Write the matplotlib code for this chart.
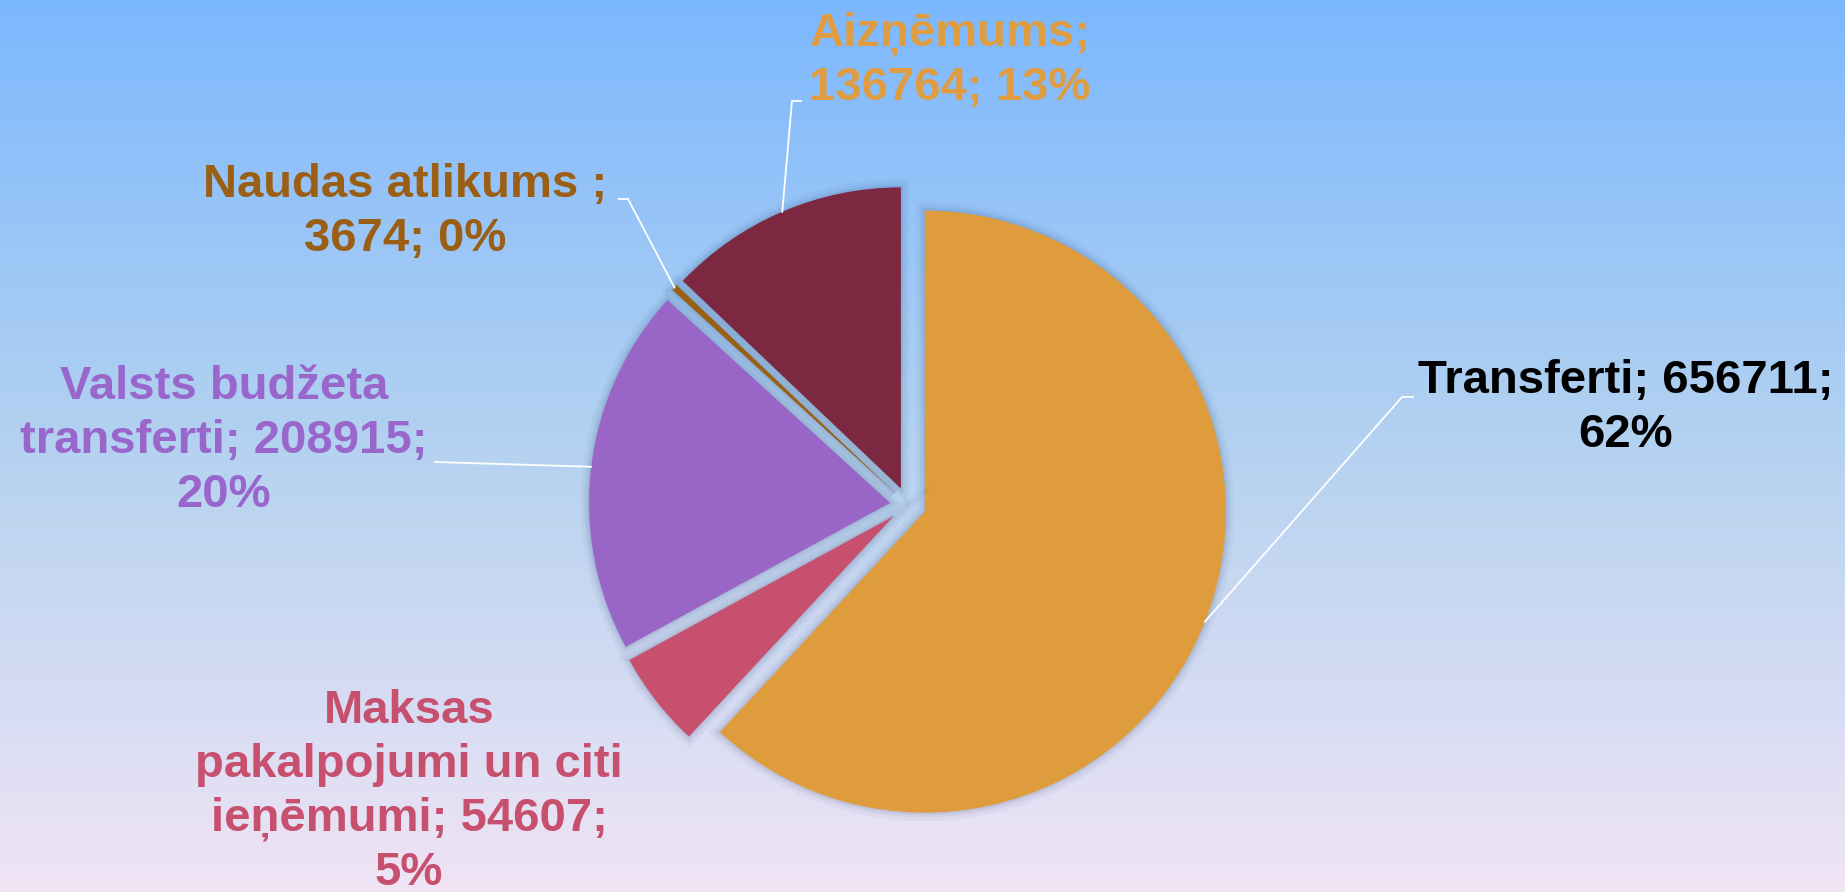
import numpy as np
import matplotlib
matplotlib.use("Agg")
import matplotlib.pyplot as plt
import matplotlib.patheffects as pe
from matplotlib.colors import LinearSegmentedColormap

# Dati
kategorijas = ["Transferti", "Maksas pakalpojumi un citi ieņēmumi", "Valsts budžeta transferti",
               "Naudas atlikums ", "Aizņēmums"]
vertibas = [656711, 54607, 208915, 3674, 136764]
krasas = ["#DE9C3C", "#C6506E", "#9966C8", "#9A6014", "#7C2841"]
teksta_krasas = ["#000000", "#C6506E", "#9966CC", "#9A5F14", "#E09C40"]

# Etiketes teksts (kā attēlā)
etiketes = [
    "Transferti; 656711;\n62%",
    "Maksas\npakalpojumi un citi\nieņēmumi; 54607;\n5%",
    "Valsts budžeta\ntransferti; 208915;\n20%",
    "Naudas atlikums ;\n3674; 0%",
    "Aizņēmums;\n136764; 13%",
]
# etiķešu centri un līniju lūzuma punkti (pikseļos no augšas)
etiketes_pos = [(1626, 408), (409, 792), (224, 441), (405, 212), (950, 61)]
luzuma_punkti = [[(1402, 397), (1413, 397)], [], [(435, 462)],
                 [(628, 199), (619, 199)], [(792, 101), (801, 101)]]

W, H = 1845, 892
plt.rcParams['font.family'] = ['Liberation Sans', 'DejaVu Sans']

fig = plt.figure(figsize=(W / 100, H / 100), dpi=100)

# fona gradients
bg = fig.add_axes([0, 0, 1, 1])
cmap = LinearSegmentedColormap.from_list("fons", [(0, "#7CB8FE"), (0.5, "#B4D2F0"), (1, "#F0E4F5")])
grad = np.linspace(0, 1, 256).reshape(-1, 1)
bg.imshow(grad, aspect="auto", cmap=cmap, extent=[0, 1, 0, 1], origin="upper")
bg.axis("off")

ax = fig.add_axes([0, 0, 1, 1])
ax.patch.set_alpha(0)

centrs = (908, H - 505)
radiuss = 301
ena = [pe.Stroke(linewidth=12, foreground="#1c3560", alpha=0.04),
       pe.Stroke(linewidth=7, foreground="#1c3560", alpha=0.06),
       pe.Stroke(linewidth=3, foreground="#1c3560", alpha=0.08),
       pe.Normal()]
# explode pie matplotlib ir datu vienībās
wedges, _ = ax.pie(vertibas, colors=krasas, startangle=90, counterclock=False,
                   explode=[0.06 * radiuss] * len(vertibas), center=centrs, radius=radiuss,
                   wedgeprops=dict(linewidth=0, path_effects=ena))
ax.set_xlim(0, W)
ax.set_ylim(0, H)
ax.set_aspect("equal")
ax.axis("off")

for w, txt, tc, (lx, ly), punkti in zip(wedges, etiketes, teksta_krasas, etiketes_pos, luzuma_punkti):
    ax.text(lx, H - ly, txt, ha="center", va="center", fontsize=34, fontweight="bold",
            color=tc, linespacing=1.28)
    if punkti:
        ang = np.deg2rad((w.theta1 + w.theta2) / 2)
        cx, cy = w.center
        x0, y0 = cx + w.r * np.cos(ang), cy + w.r * np.sin(ang)
        xs = [x0] + [p[0] for p in punkti]
        ys = [y0] + [H - p[1] for p in punkti]
        ax.plot(xs, ys, color="white", linewidth=1.3, zorder=5)

fig.savefig("out.png", dpi=100)
